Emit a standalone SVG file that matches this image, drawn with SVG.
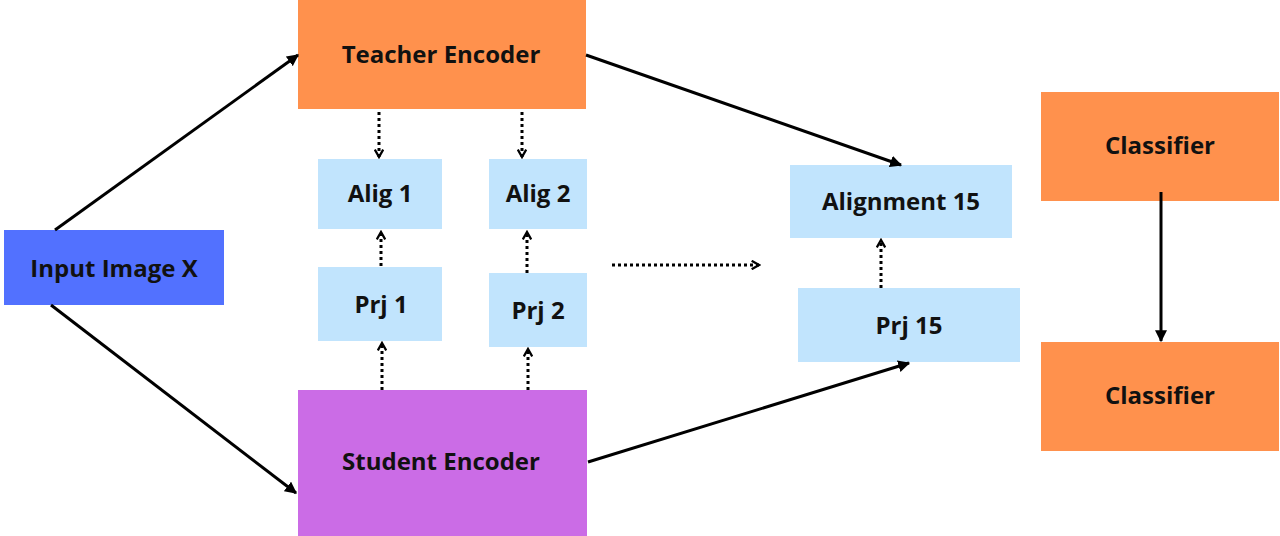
<svg xmlns="http://www.w3.org/2000/svg" width="1280" height="536" viewBox="0 0 1280 536">
<style>
.lbl{font-family:"Open Sans","Liberation Sans",sans-serif;font-weight:700;font-size:24px;fill:#111;text-anchor:middle}
.orange{fill:#FF914D}
.blue{fill:#C1E4FD}
.solid{stroke:#000;stroke-width:3;fill:none}
.dot{stroke:#000;stroke-width:3;fill:none;stroke-dasharray:3 3}
</style>
<defs>
<marker id="tri" viewBox="0 0 10 10" refX="9" refY="5" markerWidth="4" markerHeight="4" orient="auto" markerUnits="strokeWidth">
<path d="M0,0 L10,5 L0,10 z" fill="#000"/>
</marker>
<marker id="chev" viewBox="0 0 10 10" refX="8" refY="5" markerWidth="3.5" markerHeight="3.5" orient="auto" markerUnits="strokeWidth">
<path d="M1,1 L8,5 L1,9" fill="none" stroke="#000" stroke-width="2.2"/>
</marker>
</defs>
<rect width="1280" height="536" fill="#fff"/>
<g id="teacher"><rect class="orange" x="298" y="0" width="288" height="109"/><text class="lbl" x="441" y="63">Teacher Encoder</text></g>
<g id="student"><rect x="298" y="390" width="289" height="146" fill="#CB6CE6"/><text class="lbl" x="441" y="470">Student Encoder</text></g>
<g id="input"><rect x="4" y="230" width="220" height="75" fill="#5271FF"/><text class="lbl" x="114" y="277">Input Image X</text></g>
<g id="alig1"><rect class="blue" x="318" y="159" width="124" height="70"/><text class="lbl" x="380" y="202">Alig 1</text></g>
<g id="alig2"><rect class="blue" x="489" y="159" width="98" height="70"/><text class="lbl" x="538" y="202">Alig 2</text></g>
<g id="prj1"><rect class="blue" x="318" y="267" width="124" height="74"/><text class="lbl" x="381" y="313">Prj 1</text></g>
<g id="prj2"><rect class="blue" x="489" y="273" width="98" height="74"/><text class="lbl" x="538" y="319">Prj 2</text></g>
<g id="alignment15"><rect class="blue" x="790" y="165" width="222" height="73"/><text class="lbl" x="901" y="210">Alignment 15</text></g>
<g id="prj15"><rect class="blue" x="798" y="288" width="222" height="74"/><text class="lbl" x="909" y="334">Prj 15</text></g>
<g id="classifier1"><rect class="orange" x="1041" y="92" width="238" height="109"/><text class="lbl" x="1160" y="154">Classifier</text></g>
<g id="classifier2"><rect class="orange" x="1041" y="342" width="238" height="109"/><text class="lbl" x="1160" y="404">Classifier</text></g>
<g id="connectors">
<line class="solid" x1="55" y1="230" x2="298" y2="55" marker-end="url(#tri)"/>
<line class="solid" x1="51" y1="305" x2="296" y2="493" marker-end="url(#tri)"/>
<line class="solid" x1="586" y1="55" x2="901" y2="165" marker-end="url(#tri)"/>
<line class="solid" x1="588" y1="462" x2="909" y2="363" stroke-width="3.5" marker-end="url(#tri)"/>
<line class="solid" x1="1161" y1="192" x2="1161" y2="341" marker-end="url(#tri)"/>
<line class="dot" x1="379" y1="112" x2="379" y2="157" marker-end="url(#chev)"/>
<line class="dot" x1="522" y1="112" x2="522" y2="157" marker-end="url(#chev)"/>
<line class="dot" x1="381" y1="266" x2="381" y2="232" marker-end="url(#chev)"/>
<line class="dot" x1="527" y1="273" x2="527" y2="232" marker-end="url(#chev)"/>
<line class="dot" x1="382" y1="390" x2="382" y2="343" marker-end="url(#chev)"/>
<line class="dot" x1="528" y1="390" x2="528" y2="349" marker-end="url(#chev)"/>
<line class="dot" x1="881" y1="288" x2="881" y2="240" marker-end="url(#chev)"/>
<line class="dot" x1="612" y1="265" x2="759" y2="265" marker-end="url(#chev)"/>
</g>
</svg>
